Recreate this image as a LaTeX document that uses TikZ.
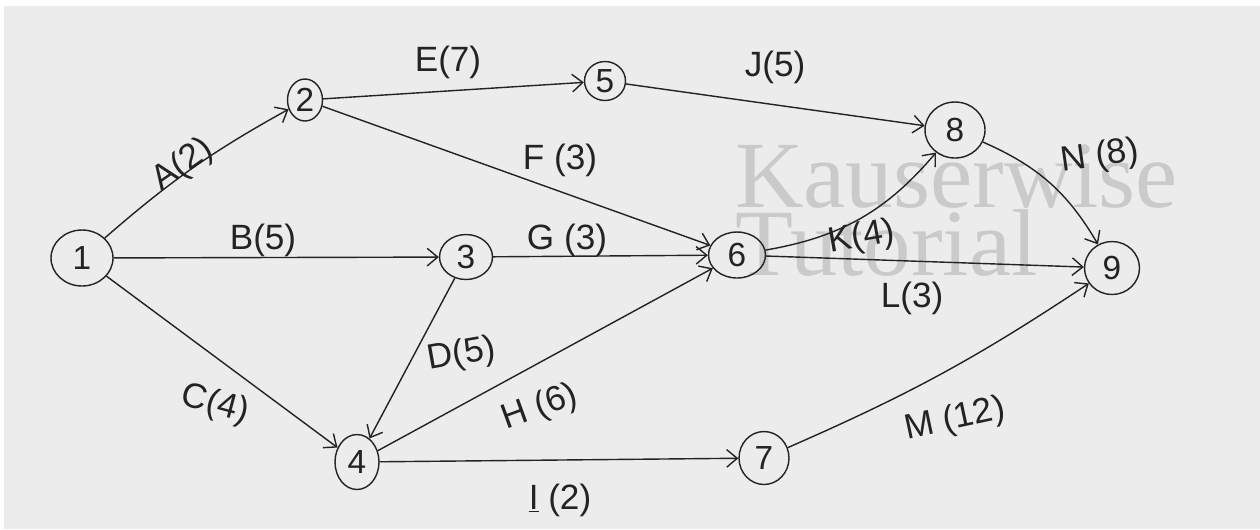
\documentclass[tikz,border=0pt]{standalone}
\usepackage{fontspec}
\setmainfont{Liberation Sans}
\newfontfamily\wmfont{Liberation Serif}
\usetikzlibrary{shapes.geometric,arrows.meta}
\definecolor{bg}{RGB}{236,236,236}
\definecolor{ink}{RGB}{35,35,35}
\definecolor{wm}{RGB}{202,202,202}
\begin{document}
\begin{tikzpicture}[x=0.02cm,y=-0.02cm,
  ev/.style={draw=ink,ellipse,line width=0.8pt,inner sep=0pt,text=ink,font=\fontsize{19}{19}\selectfont},
  act/.style={draw=ink,line width=0.8pt,-{Straight Barb[length=6pt,width=10pt]}},
  lbl/.style={text=ink,inner sep=0pt,font=\fontsize{20}{20}\selectfont},
  wmark/.style={text=wm,inner sep=0pt,anchor=base west,font=\wmfont\fontsize{54}{54}\selectfont}]
\useasboundingbox (0,0) rectangle (1260,529);
\fill[white] (0,0) rectangle (1260,529);
\fill[bg] (4,6) rectangle (1260,529);
% watermark
\node[wmark] (wm1) at (735,207) {Kauserwise};
\node[wmark] (wm2) at (735,275) {Tutorial};
% events
\node[ev,minimum width=1.24cm,minimum height=1.12cm] (n1) at (82,258) {1};
\node[ev,minimum width=0.7cm,minimum height=0.84cm] (n2) at (305,100) {2};
\node[ev,minimum width=1.06cm,minimum height=0.9cm] (n3) at (466,257) {3};
\node[ev,minimum width=0.88cm,minimum height=1.1cm] (n4) at (357,462) {4};
\node[ev,minimum width=0.82cm,minimum height=0.78cm] (n5) at (605,81) {5};
\node[ev,minimum width=1.14cm,minimum height=0.92cm] (n6) at (737,255) {6};
\node[ev,minimum width=1.0cm,minimum height=1.06cm] (n7) at (764,458) {7};
\node[ev,minimum width=1.2cm,minimum height=1.12cm] (n8) at (955,130) {8};
\node[ev,minimum width=1.1cm,minimum height=1.06cm] (n9) at (1112,268) {9};
% activities
\draw[act] (n1) to[bend left=6] (n2);
\draw[act] (n1) -- (n3);
\draw[act] (n1) -- (n4);
\draw[act] (n3) -- (n4);
\draw[act] (n2) -- (n5);
\draw[act] (n2) -- (n6);
\draw[act] (n3) -- (n6);
\draw[act] (n4) -- (n6);
\draw[act] (n4) -- (n7);
\draw[act] (n5) -- (n8);
\draw[act] (n6) to[bend right=20] (n8);
\draw[act] (n6) -- (n9);
\draw[act] (n7) to[bend right=5] (n9);
\draw[act] (n8) to[bend left=18] (n9);
% labels
\node[lbl,rotate=35] (lA) at (183,165) {A(2)};
\node[lbl] (lB) at (263,240) {B(5)};
\node[lbl,rotate=-15] (lC) at (215,405) {C(4)};
\node[lbl,rotate=10] (lD) at (462,355) {D(5)};
\node[lbl] (lE) at (448,62) {E(7)};
\node[lbl] (lF) at (560,160) {F (3)};
\node[lbl] (lG) at (567,240) {G (3)};
\node[lbl,rotate=20] (lH) at (540,408) {H (6)};
\node[lbl] (lI) at (560,500) {\underline{I} (2)};
\node[lbl] (lJ) at (775,67) {J(5)};
\node[lbl,rotate=10] (lK) at (862,238) {K(4)};
\node[lbl] (lL) at (912,298) {L(3)};
\node[lbl,rotate=12] (lM) at (955,420) {M (12)};
\node[lbl,rotate=8] (lN) at (1100,157) {N (8)};
\end{tikzpicture}
\end{document}
